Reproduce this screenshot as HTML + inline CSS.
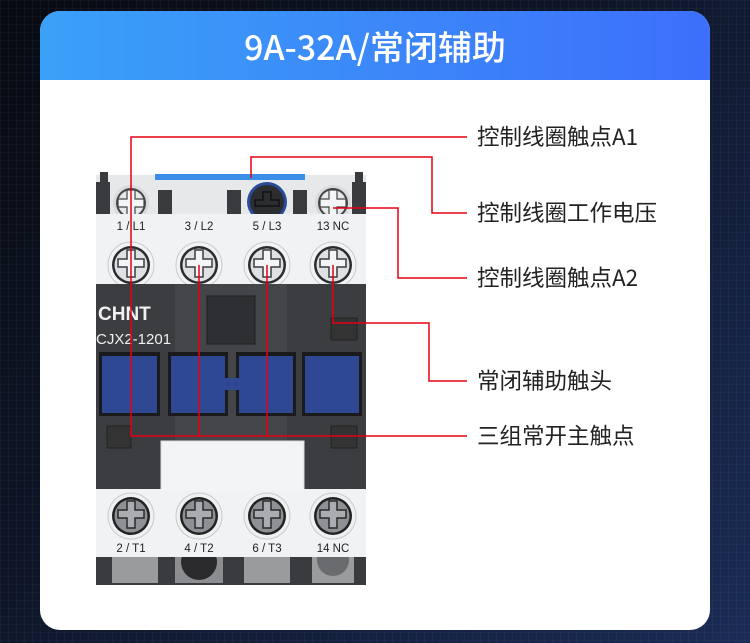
<!DOCTYPE html>
<html><head><meta charset="utf-8"><style>
html,body{margin:0;padding:0}
body{width:750px;height:643px;overflow:hidden;background:linear-gradient(135deg,#070a12 0%,#0d1526 40%,#1a2b55 100%);position:relative;font-family:"Liberation Sans","Noto Sans CJK SC",sans-serif}
.grid{position:absolute;inset:0;background-image:linear-gradient(rgba(255,255,255,0.03) 1px,transparent 1px),linear-gradient(90deg,rgba(255,255,255,0.03) 1px,transparent 1px);background-size:8px 8px}
.card{position:absolute;left:40px;top:11px;width:670px;height:619px;background:#fff;border-radius:20px;overflow:hidden}
.hdr{height:69px;background:linear-gradient(90deg,#3aa1f8,#3d6ffa);color:#fff;font-size:34px;font-weight:500;text-align:center;line-height:69px;font-family:"Noto Sans CJK SC","Liberation Sans",sans-serif}
svg{position:absolute;left:0;top:0}
.lbl{font-family:"Noto Sans CJK SC","Liberation Sans",sans-serif;font-size:22.5px;fill:#222}
.tl{font-family:"Liberation Sans",sans-serif;font-size:11.5px;fill:#222}
</style></head><body>
<div class="grid"></div>
<div class="card"><div class="hdr">9A-32A/常闭辅助</div></div>
<svg width="750" height="643" viewBox="0 0 750 643">
<defs>
<g id="sw">
<circle r="23" fill="#f2f3f5" stroke="#c8cacd" stroke-width="1"/>
<circle r="19" fill="#2a2c30"/>
<circle r="16.5" fill="#dfe1e5"/>
<path d="M-4,-15 h8 v9 h9 v8 h-9 v10 h-8 v-10 h-9 v-8 h9z" fill="#f4f5f7" stroke="#3a3c40" stroke-width="1.5"/>
</g>
<g id="swd">
<circle r="23" fill="#eef0f2" stroke="#c8cacd" stroke-width="1"/>
<circle r="19" fill="#222"/>
<circle r="16.5" fill="#8d9095"/>
<path d="M-4,-15 h8 v9 h9 v8 h-9 v10 h-8 v-10 h-9 v-8 h9z" fill="#a9acb0" stroke="#2a2a2a" stroke-width="1.5"/>
</g>
<clipPath id="bc"><rect x="96" y="557" width="270" height="30"/></clipPath>
</defs>
<!-- top parts -->
<rect x="96" y="175" width="270" height="40" fill="#e6e8ea"/>
<rect x="155" y="174" width="150" height="6" fill="#3a8ee8"/>
<rect x="96" y="182" width="14" height="33" fill="#3a3b3e"/>
<rect x="352" y="182" width="14" height="33" fill="#3a3b3e"/>
<rect x="100" y="172" width="8" height="14" fill="#3a3b3e"/>
<rect x="355" y="172" width="8" height="14" fill="#3a3b3e"/>
<rect x="158" y="190" width="14" height="25" fill="#3a3b3e"/>
<rect x="227" y="190" width="14" height="25" fill="#3a3b3e"/>
<rect x="293" y="190" width="14" height="25" fill="#3a3b3e"/>
<g><circle cx="131" cy="203" r="18" fill="#d8dadd"/><circle cx="131" cy="203" r="15" fill="#444"/><circle cx="131" cy="203" r="13" fill="#e6e8eb"/><path d="M127,190 h8 v9 h9 v8 h-9 v9 h-8 v-9 h-9 v-8 h9z" fill="#f4f5f7" stroke="#444" stroke-width="1.2"/></g>
<g><circle cx="333" cy="203" r="18" fill="#d8dadd"/><circle cx="333" cy="203" r="15" fill="#444"/><circle cx="333" cy="203" r="13" fill="#e6e8eb"/><path d="M329,190 h8 v9 h9 v8 h-9 v9 h-8 v-9 h-9 v-8 h9z" fill="#f4f5f7" stroke="#444" stroke-width="1.2"/></g>
<circle cx="267" cy="202" r="20" fill="#2a4a9a"/><circle cx="267" cy="202" r="17" fill="#2b2d31"/>
<path d="M263,192 h8 v8 h8 v6 h-24 v-6 h8z" fill="none" stroke="#111" stroke-width="1.5"/>
<!-- white strip upper -->
<rect x="96" y="214" width="270" height="70" fill="#f1f2f4"/>
<text class="tl" x="131" y="230" text-anchor="middle">1 / L1</text>
<text class="tl" x="199" y="230" text-anchor="middle">3 / L2</text>
<text class="tl" x="267" y="230" text-anchor="middle">5 / L3</text>
<text class="tl" x="333" y="230" text-anchor="middle">13 NC</text>
<use href="#sw" x="131" y="265"/><use href="#sw" x="199" y="265"/><use href="#sw" x="267" y="265"/><use href="#sw" x="333" y="265"/>
<!-- dark body -->
<rect x="96" y="284" width="270" height="206" fill="#3c3d40"/>
<rect x="175" y="284" width="112" height="206" fill="#444548"/>
<rect x="207" y="296" width="48" height="48" fill="#2e2f32" stroke="#1f2022"/>
<rect x="331" y="318" width="26" height="22" fill="#333" stroke="#222"/>
<text x="98" y="320" font-family="Liberation Sans,sans-serif" font-weight="bold" font-size="19" fill="#f0f0f0">CHNT</text>
<text x="96" y="344" font-family="Liberation Sans,sans-serif" font-size="15" fill="#f0f0f0">CJX2-1201</text>
<rect x="99" y="352" width="61" height="64" fill="#1a1a1c"/><rect x="102" y="356" width="55" height="57" fill="#2f4893"/>
<rect x="168" y="352" width="60" height="64" fill="#1a1a1c"/><rect x="171" y="356" width="54" height="57" fill="#2f4893"/>
<rect x="236" y="352" width="60" height="64" fill="#1a1a1c"/><rect x="239" y="356" width="54" height="57" fill="#2f4893"/>
<rect x="223" y="378" width="18" height="12" fill="#2f4893"/>
<rect x="302" y="352" width="60" height="64" fill="#1a1a1c"/><rect x="305" y="356" width="54" height="57" fill="#2f4893"/>
<rect x="107" y="426" width="24" height="22" fill="#333" stroke="#222"/>
<rect x="331" y="426" width="26" height="22" fill="#333" stroke="#222"/>
<rect x="161" y="441" width="143" height="50" fill="#f3f4f5" stroke="#ddd"/>
<!-- bottom strip -->
<rect x="96" y="489" width="270" height="68" fill="#f1f2f4"/>
<rect x="161" y="489" width="143" height="2" fill="#f3f4f5"/>
<use href="#swd" x="131" y="516"/><use href="#swd" x="199" y="516"/><use href="#swd" x="267" y="516"/><use href="#swd" x="333" y="516"/>
<text class="tl" x="131" y="552" text-anchor="middle">2 / T1</text>
<text class="tl" x="199" y="552" text-anchor="middle">4 / T2</text>
<text class="tl" x="267" y="552" text-anchor="middle">6 / T3</text>
<text class="tl" x="333" y="552" text-anchor="middle">14 NC</text>
<g clip-path="url(#bc)">
<rect x="96" y="557" width="270" height="28" fill="#3a3b3e"/>
<rect x="112" y="557" width="46" height="26" fill="#9a9b9d"/>
<rect x="175" y="557" width="48" height="26" fill="#8c8d90"/><circle cx="199" cy="562" r="18" fill="#2a2a2c"/>
<rect x="244" y="557" width="46" height="26" fill="#9a9b9d"/>
<rect x="312" y="557" width="42" height="26" fill="#9a9b9d"/><circle cx="333" cy="560" r="16" fill="#6a6b6e"/>
</g>
<!-- leader lines -->
<g stroke="#e60012" stroke-width="1.5" fill="none">
<polyline points="131,265 131,137 467,137"/>
<polyline points="251,178 251,157 432,157 432,213 467,213"/>
<polyline points="333,208 398,208 398,278 467,278"/>
<polyline points="333,265 333,323 429,323 429,381 467,381"/>
<polyline points="131,265 131,436 467,436"/>
<polyline points="199,265 199,436"/>
<polyline points="267,265 267,436"/>
</g>
<text class="lbl" x="477" y="145">控制线圈触点A1</text>
<text class="lbl" x="477" y="221">控制线圈工作电压</text>
<text class="lbl" x="477" y="286">控制线圈触点A2</text>
<text class="lbl" x="477" y="389">常闭辅助触头</text>
<text class="lbl" x="477" y="444">三组常开主触点</text>
</svg>
</body></html>
